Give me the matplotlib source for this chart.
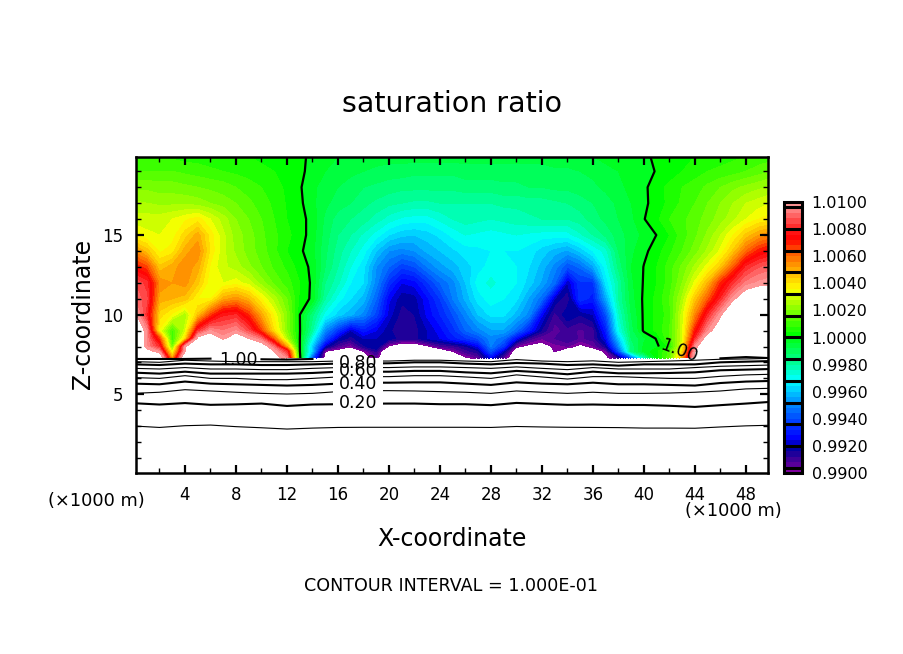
import numpy as np
import matplotlib
matplotlib.use("Agg")
import matplotlib.pyplot as plt
from matplotlib.colors import LinearSegmentedColormap

W, H = 904, 654
x_nodes = np.arange(0, 51)
z_rows = [7.28, 7.7, 8, 8.5, 9, 10, 11, 12, 13, 14, 15, 16, 17, 18, 19, 19.95]

# saturation ratio deviation from 1, in units of 0.001, one list per height
s_728 = [12,12,12,5,12,12,12,12,12,12, 12,10.5,9.5,.3,-6,-10.5,-12,-12,-10.5,-9.6,
         -12,-12,-12,-11.5,-11,-10.5,-10.2,-9.5,-7.5,-9.5, -11,-12,-12,-11,-12,-12,-12,-10.3,-9,-6,
         -2.5,.2,1.5,5,10.5,12,12,12,12,12,12]
s_770 = [12,10.5,9.5,3,10,12,12,12,12,12, 11.5,10,8,.05,-4,-10,-10.5,-11,-10,-8.7,
         -12,-12,-12,-11,-11,-10,-9,-8.5,-6,-8, -11,-12,-12,-9.9,-11,-12,-10.8,-9.8,-6,-1.5,
         -.3,.3,1.3,4,10,12,12,12,12,12,12]
s_800 = [12,9.6,8,1.5,9.8,12,12,12,12,11.5, 11,9,5,.03,-4,-8,-9.3,-9.9,-8.5,-8,
         -10.2,-11,-11,-10.2,-9.3,-9,-8.5,-7.5,-5.2,-6.5, -9.8,-10.3,-10.5,-9.8,-9.6,-10.3,-9.7,-8.5,-5,-1.5,
         -.3,-.1,.5,3.5,9.5,12,12,12,12,12,12]
s_850 = [12,9.5,6.5,.9,4,10.5,11,9.8,11,10, 9,6,2.5,.03,-3,-6,-8,-8.6,-8,-8,
         -8.2,-8.6,-8.6,-8,-7.6,-7,-6.5,-6,-5,-5.5, -7.5,-9,-9.6,-9.2,-8.8,-9.3,-9,-7.5,-4,-1.2,
         -.5,.05,1.2,3,8,11,12,12,12,12,12]
s_900 = [12,9.5,3.5,1,3,8,9.6,9.2,9.6,8.5, 6.5,4,2,.05,-2,-5,-6.5,-8,-7,-7.6,
         -8.3,-8.8,-8.6,-8,-7.4,-6.6,-5.6,-5,-4.5,-4.5, -5.5,-7,-8.5,-9.4,-9,-9.3,-9,-7,-3,-1,
         .1,.5,1.2,3,7,9.5,11,12,12,12,12]
s_1000 = [10.5,8,4.2,3.5,2.5,4.5,6.5,7.8,8,6.8, 5,3.5,2,.02,-1.5,-3,-3.8,-4.3,-5,-6.2,
          -7.8,-8.6,-8.4,-7.5,-6.8,-6,-5,-4,-3.5,-3.5, -4.2,-5,-7.5,-9,-8,-8.4,-8,-6,-2.5,-.8,
          .1,.5,1,3,5.5,8,9.8,12,12,12,12]
s_1100 = [9.2,8.5,5,4.8,4.6,3.6,3.6,5,5.4,4.8, 3.6,2.6,1.6,.3,-.1,-2,-3,-3.6,-4.2,-5.6,
          -7.5,-8.3,-8.2,-7.3,-6.4,-5.2,-4.3,-3.4,-3,-3.2, -3.5,-4.5,-5.5,-8,-8.8,-6.5,-7,-4.5,-2,-.6,
          .1,.5,1.2,2.5,4.5,6.2,8,9.8,11,11.2,10.5]
s_1200 = [8.8,8.2,5.5,5.2,5.4,4.5,3.3,3.2,3.4,3, 2.2,1.5,1,.4,-.1,-1.6,-2.3,-3.2,-3.6,-5,
          -6.6,-7.6,-7.4,-6.5,-5.6,-5,-4,-3,-2.7,-3, -3.2,-3.8,-4.5,-5.5,-8,-6.5,-6.5,-3.5,-2,-.5,
          .05,.4,1,2,3.3,4.8,6.8,8.2,9.3,9.7,9.9]
s_1300 = [7.2,6.5,4.5,5,5.5,5,3.5,2.9,2.6,2.1, 1.6,1.1,.7,.2,-.1,-1.2,-2,-2.8,-3.5,-4.8,
          -5.6,-6.3,-6,-5.2,-4.6,-4.2,-3.8,-3.4,-3,-3, -3.2,-3.6,-4.2,-5,-6,-5.5,-4.5,-3,-1.5,-.4,
          .02,.4,1,1.7,2.5,3.4,4.5,6.2,8,8.7,9]
s_1400 = [5.5,4.6,3.5,3.8,5,5.5,3.9,2.9,2.3,1.8, 1.4,.9,.4,.1,-.3,-1.1,-1.8,-2.4,-3,-4,
          -4.8,-5,-4.8,-4.3,-4,-3.7,-3.4,-3.3,-3.2,-3.2, -3.2,-3.4,-3.8,-4.2,-4.5,-3.9,-3.2,-2.6,-1.2,-.5,
          -.1,.2,.7,1.2,1.8,2.5,3.3,4.5,6,7,7.5]
s_1500 = [3.6,3.3,3.2,3.4,4.2,5,3.8,2.9,2.2,1.8, 1.3,.9,.5,.2,-.2,-1,-1.6,-2,-2.5,-3,
          -3.6,-3.9,-4,-3.8,-3.5,-3.1,-2.8,-2.9,-3,-2.9, -2.8,-2.9,-3,-3,-3,-2.5,-2,-1.5,-1,-.6,
          -.3,.01,.4,1,1.5,2.1,2.8,3.6,4.5,5.2,5.6]
s_1600 = [3,3,3,3.2,3.5,3.8,3.2,2.6,2,1.6, 1.2,.8,.4,.15,-.15,-.9,-1.4,-1.6,-1.8,-2.2,
          -2.6,-2.9,-3,-3,-2.7,-2.4,-2.2,-2.3,-2.4,-2.3, -2.2,-2.1,-2,-2,-2,-1.8,-1.4,-1.1,-.8,-.5,
          -.02,.3,.8,1.1,1.4,1.8,2.2,2.7,3.2,3.6,3.8]
s_1700 = [2.5,2.4,2.3,2.3,2.3,2.2,2,1.8,1.6,1.3, 1,.7,.35,.1,-.3,-.7,-1,-1.2,-1.5,-1.7,
          -1.9,-2,-2.1,-2.1,-2,-2,-2,-2,-2,-1.9, -1.9,-1.8,-1.8,-1.7,-1.6,-1.4,-1.2,-1,-.7,-.4,
          -.1,.2,.5,.9,1.2,1.6,2,2.4,2.8,3,3.2]
s_1800 = [1.9,1.9,1.8,1.8,1.7,1.6,1.5,1.4,1.2,1, .8,.6,.3,.05,-.3,-.6,-.8,-1,-1.2,-1.3,
          -1.4,-1.5,-1.5,-1.5,-1.5,-1.5,-1.4,-1.4,-1.4,-1.3, -1.3,-1.2,-1.2,-1.1,-1.1,-1,-.9,-.7,-.5,-.3,
          -.1,.25,.5,.8,1,1.3,1.6,1.9,2.1,2.3,2.5]
s_1900 = [1.2,1.2,1.2,1.2,1.1,1,.9,.8,.7,.6, .5,.4,.3,.1,-.15,-.4,-.5,-.7,-.8,-.9,
          -1,-1,-1.1,-1.1,-1.1,-1.1,-1,-1,-1,-1, -1,-1,-1,-.9,-.9,-.8,-.7,-.5,-.4,-.2,
          -.1,.02,.2,.4,.6,.8,.9,1,1.2,1.4,1.6]
s_1995 = [.7,.7,.7,.7,.6,.6,.5,.5,.4,.4, .3,.3,.2,.1,-.1,-.3,-.4,-.5,-.5,-.6,
          -.6,-.6,-.6,-.6,-.6,-.6,-.6,-.6,-.6,-.6, -.6,-.6,-.6,-.5,-.5,-.5,-.4,-.3,-.3,-.2,
          -.1,.1,.2,.3,.4,.5,.6,.7,.8,.9,1]
rows = [s_728, s_770, s_800, s_850, s_900, s_1000, s_1100, s_1200, s_1300, s_1400,
        s_1500, s_1600, s_1700, s_1800, s_1900, s_1995]

# heights (km) of the low contour lines
x_low = np.arange(0, 51, 2)
nan = np.nan
lvl10 = [7.22,7.22,7.22,7.24,nan,7.2,7.18,7.22,nan,nan,nan,nan,nan,nan,nan,nan,nan,nan,nan,nan,nan,nan,nan,7.26,7.34,7.27]
lvl09 = [7.05,7.01,7.14,7.09,7.05,7.05,7.05,7.05,7.09,7.09,7.09,7.14,7.14,7.09,7.05,7.18,7.09,7.05,7.1,7.01,7.05,7.09,7.14,7.2,7.22,7.26]
lvl08 = [6.88,6.84,6.93,6.88,6.88,6.84,6.84,6.88,6.93,6.93,6.95,7.01,7.01,6.93,6.88,6.97,6.93,6.84,6.88,6.80,6.88,6.88,6.88,7.01,7.05,7.09]
lvl07 = [6.63,6.59,6.68,6.59,6.59,6.55,6.55,6.63,6.68,6.68,6.68,6.72,6.72,6.68,6.63,6.72,6.63,6.55,6.68,6.59,6.59,6.59,6.68,6.76,6.80,6.84]
lvl06 = [6.36,6.30,6.42,6.30,6.30,6.30,6.30,6.34,6.42,6.42,6.42,6.47,6.47,6.38,6.32,6.47,6.38,6.26,6.42,6.32,6.32,6.34,6.38,6.51,6.55,6.59]
lvl05 = [6.05,6.0,6.17,6.0,6.0,5.92,5.92,6.0,6.09,6.11,6.11,6.17,6.17,6.09,6.0,6.22,6.09,5.96,6.11,6.11,6.05,6.0,6.0,6.13,6.22,6.26]
lvl04 = [5.67,5.63,5.80,5.67,5.63,5.59,5.55,5.59,5.67,5.73,5.73,5.75,5.75,5.67,5.59,5.75,5.67,5.63,5.73,5.63,5.63,5.59,5.55,5.71,5.80,5.84]
lvl03 = [5.06,5.13,5.29,5.21,5.13,5.06,5.02,5.06,5.17,5.23,5.23,5.21,5.17,5.13,5.06,5.21,5.13,5.06,5.13,5.06,5.06,5.08,5.13,5.21,5.34,5.38]
lvl02 = [4.44,4.36,4.45,4.34,4.37,4.42,4.27,4.36,4.38,4.41,4.42,4.42,4.38,4.38,4.32,4.46,4.40,4.34,4.36,4.33,4.33,4.28,4.21,4.32,4.42,4.53]
lvl01 = [3.01,2.92,3.03,3.07,2.97,2.90,2.82,2.88,2.92,2.93,2.93,2.93,2.93,2.93,2.92,2.98,2.95,2.93,2.92,2.91,2.88,2.88,2.87,2.95,3.02,3.06]
low_levels = [lvl10, lvl09, lvl08, lvl07, lvl06, lvl05, lvl04, lvl03, lvl02, lvl01]
low_widths = [1.5, 0.8, 1.5, 0.8, 1.5, 0.8, 1.5, 0.8, 1.5, 0.8]

x_ticks = [4, 8, 12, 16, 20, 24, 28, 32, 36, 40, 44, 48]
z_ticks = [5, 10, 15]

# colour stops: deviation (units of 0.001), red, green, blue
colour_stops = [
    (-10, 128, 0, 160), (-9.6, 90, 0, 155), (-9.0, 50, 0, 150), (-8.4, 0, 0, 160), (-8, 0, 0, 200),
    (-7.6, 0, 0, 255), (-6.4, 0, 60, 255), (-4.8, 0, 150, 255), (-3.2, 0, 255, 255), (-1.6, 0, 255, 130),
    (0, 0, 255, 20), (0.2, 0, 255, 0), (1.6, 100, 255, 0), (3.0, 200, 255, 0), (3.6, 255, 255, 0),
    (4.8, 255, 190, 0), (6.4, 255, 90, 0), (7.4, 255, 0, 0), (8.0, 255, 20, 20), (9.6, 255, 128, 128),
    (10, 255, 150, 150),
]
cmap = LinearSegmentedColormap.from_list(
    "sat", [((v + 10) / 20, (r / 255, g / 255, b / 255)) for v, r, g, b in colour_stops], N=50)

fig = plt.figure(figsize=(W / 100, H / 100), dpi=100)
ax = fig.add_axes([136 / W, (654 - 473) / H, (768 - 136) / W, (473 - 157) / H])

X, Z = np.meshgrid(x_nodes, z_rows)
F = 1 + np.array(rows) / 1000
levels = np.linspace(0.99, 1.01, 51)
cf = ax.contourf(X, Z, F, levels=levels, cmap=cmap, antialiased=False)
ax.contour(X, Z, np.ma.masked_where((Z < 8.0) & (X > 35), F), levels=[1.0], colors="k", linewidths=1.6, zorder=3)

for values, lw in zip(low_levels, low_widths):
    ax.plot(x_low, values, color="k", lw=lw, solid_joinstyle="miter", zorder=3)
ax.fill_betweenx([3.6, 7.27], 15.6, 19.5, color="white", lw=0, zorder=4)

lab = dict(ha="center", va="center", fontsize=12.5, zorder=5, color="k")
ax.text(8.15, 7.16, "1.00", **lab)
ax.text(17.57, 6.97, "0.80", **lab)
ax.text(17.57, 6.47, "0.60", **lab)
ax.text(17.57, 5.64, "0.40", **lab)
ax.text(17.57, 4.46, "0.20", **lab)
ax.text(42.75, 7.72, "1.00", rotation=-20, rotation_mode="anchor", **lab)

ax.set_xlim(0.157, 49.73)
ax.set_ylim(0.06, 19.9)
ax.set_xticks(x_ticks)
ax.set_xticks(np.arange(2, 50, 2), minor=True)
ax.set_yticks(z_ticks)
ax.set_yticks(np.arange(1, 20, 1), minor=True)
ax.tick_params(which="major", direction="in", top=True, right=True, length=6, width=1.6,
               labelsize=12, pad=9)
ax.tick_params(which="minor", direction="in", top=True, right=True, length=3.5, width=1.0)
for s in ax.spines.values():
    s.set_linewidth(1.8)

cax = fig.add_axes([784 / W, (654 - 473) / H, (802 - 784) / W, (473 - 202) / H])
cb = fig.colorbar(cf, cax=cax, ticks=np.arange(0.99, 1.0101, 0.002), format="%.4f")
cb.ax.tick_params(length=0, labelsize=11.5, pad=7)
cb.minorticks_off()
cb.outline.set_linewidth(2.2)
cax.hlines(np.arange(0.9904, 1.0097, 0.0016), 0, 1, transform=cax.get_yaxis_transform(), colors="k", lw=2.2)

def px_text(px, py, s, **kw):
    fig.text(px / W, 1 - py / H, s, ha="center", va="center", **kw)

px_text(452, 104, "saturation ratio", fontsize=20.5)
px_text(452, 539, "X-coordinate", fontsize=17)
px_text(83, 314, "Z-coordinate", fontsize=17, rotation=90)
px_text(451, 586, "CONTOUR INTERVAL = 1.000E-01", fontsize=12.6)
px_text(96, 501, "(\u00d71000 m)", fontsize=12.8)
px_text(733, 511, "(\u00d71000 m)", fontsize=12.8)

fig.savefig("out.png", dpi=100)
